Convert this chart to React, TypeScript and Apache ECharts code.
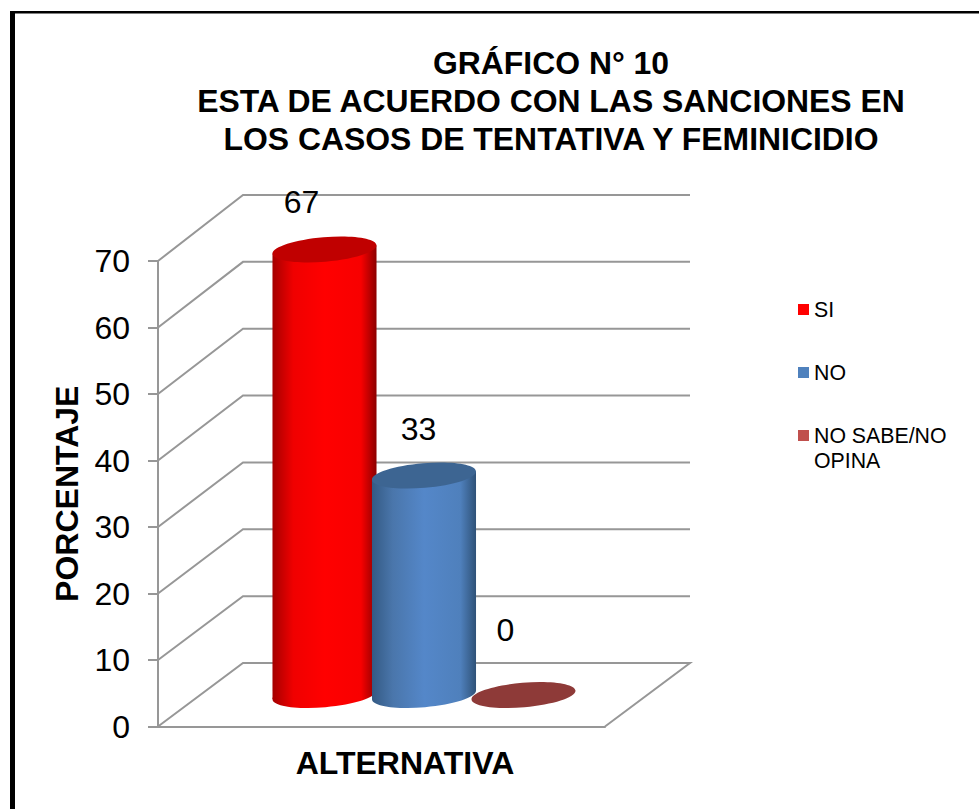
import React, { useEffect, useRef } from "react";
import * as echarts from "echarts";

const titleText = "GRÁFICO N° 10\nESTA DE ACUERDO CON LAS SANCIONES EN\nLOS CASOS DE TENTATIVA Y FEMINICIDIO";
const yAxisName = "PORCENTAJE";
const xAxisName = "ALTERNATIVA";
const categories = [""];
const tickValues = [0, 10, 20, 30, 40, 50, 60, 70];
const seriesNames = ["SI", "NO", "NO SABE/NO OPINA"];
const siValues = [67];
const noValues = [33];
const noSabeValues = [0];

const FONT = '"Liberation Sans", Arial, sans-serif';
const GRID = { left: 158, top: 261, width: 447, height: 465.5 };
const DEPTH = { x: 85, yBottom: -63.5, yTop: -66 };
const BAR = { spacing: 99.5, offX: 42.5, offY: -31.5, a: 52.2, b: 12.3, rot: 0.084, tangent: 4 };
const LINE = "#979797";

const stops = (c: string[]) => c.map((color, i) => ({ offset: [0, 0.2, 0.5, 0.85, 1][i], color }));
const looks = [
  { legend: "#ff0000", top: "#c00000", side: stops(["#a50000", "#f00000", "#ff0000", "#f80000", "#8c0000"]), labelOff: [-23, -47] },
  { legend: "#4f81bd", top: "#3d6592", side: stops(["#345a84", "#4a76ab", "#5487c9", "#4f80bc", "#2f5278"]), labelOff: [-5.5, -47] },
  { legend: "#c0504d", top: "#8e3a38", side: stops(["#8e3a38", "#8e3a38", "#8e3a38", "#8e3a38", "#8e3a38"]), labelOff: [-18, -65] },
];

const wallItem = (_: any, api: any) => {
  const v = api.value(1);
  const p = api.coord([0, v]);
  const x0 = GRID.left;
  const x1 = x0 + DEPTH.x;
  const y1 = p[1] + DEPTH.yBottom + (DEPTH.yTop - DEPTH.yBottom) * (v / 70);
  const x2 = x0 + GRID.width + DEPTH.x;
  const points: number[][] = [[x0, p[1]], [x1, y1], [x2, y1]];
  if (v === 0) points.push([x0 + GRID.width, p[1]]);
  return {
    type: "polyline",
    shape: { points },
    style: { stroke: LINE, lineWidth: 2, fill: "none" },
  };
};

const cylinderItem = (idx: number) => (_: any, api: any) => {
  const look = looks[idx];
  const v = api.value(1);
  const front = api.coord([0, v]);
  const base = api.coord([0, 0]);
  const cx = front[0] + (idx - 1) * BAR.spacing + BAR.offX;
  const cy = front[1] + BAR.offY;
  const by = base[1] + BAR.offY;
  const w = Math.sqrt(BAR.a * BAR.a * Math.cos(BAR.rot) ** 2 + BAR.b * BAR.b * Math.sin(BAR.rot) ** 2);
  const side = new echarts.graphic.LinearGradient(0, 0, 1, 0, look.side);
  const children: any[] = [];
  if (v > 0) {
    children.push({
      type: "ellipse",
      x: cx,
      y: by,
      rotation: BAR.rot,
      shape: { cx: 0, cy: 0, rx: BAR.a, ry: BAR.b },
      style: { fill: side },
    });
    children.push({
      type: "polygon",
      shape: {
        points: [
          [cx - w, cy + BAR.tangent],
          [cx + w, cy - BAR.tangent],
          [cx + w, by - BAR.tangent],
          [cx - w, by + BAR.tangent],
        ],
      },
      style: { fill: side },
    });
  }
  children.push({
    type: "ellipse",
    x: cx,
    y: cy,
    rotation: BAR.rot,
    shape: { cx: 0, cy: 0, rx: BAR.a, ry: BAR.b },
    style: { fill: look.top },
  });
  children.push({
    type: "text",
    style: {
      text: String(v),
      x: cx + look.labelOff[0],
      y: cy + look.labelOff[1],
      fill: "#000",
      fontSize: 32,
      fontFamily: FONT,
      align: "center",
      verticalAlign: "middle",
    },
  });
  return { type: "group", children };
};

const legendBase = {
  orient: "vertical" as const,
  left: 798,
  itemWidth: 11,
  itemHeight: 11,
  icon: "rect",
  selectedMode: false,
  textStyle: { fontFamily: FONT, fontSize: 21.3, color: "#000", lineHeight: 25 },
  padding: 0,
};

export default function App() {
  const ref = useRef<HTMLDivElement>(null);
  useEffect(() => {
    document.body.style.margin = "0";
    const chart = echarts.init(ref.current!, undefined, { renderer: "svg" });
    const valuesBySeries = [siValues, noValues, noSabeValues];
    chart.setOption({
      animation: false,
      backgroundColor: "#fff",
      title: {
        text: titleText,
        left: 551,
        top: 43.5,
        textAlign: "center",
        padding: 0,
        textStyle: { fontFamily: FONT, fontWeight: "bold", fontSize: 31.9, lineHeight: 38, color: "#000" },
      },
      grid: { ...GRID },
      legend: [
        { ...legendBase, top: 297, data: [seriesNames[0]] },
        { ...legendBase, top: 360, data: [seriesNames[1]] },
        {
          ...legendBase,
          top: 398,
          data: [seriesNames[2]],
          formatter: () => "\nNO SABE/NO\nOPINA",
        },
      ],
      xAxis: {
        type: "category",
        data: categories,
        name: xAxisName,
        nameLocation: "middle",
        nameGap: 20,
        nameTextStyle: { fontFamily: FONT, fontWeight: "bold", fontSize: 32, color: "#000", padding: [0, 0, 0, 47] },
        axisTick: { show: false },
        axisLabel: { show: false },
        axisLine: { lineStyle: { color: LINE, width: 2 } },
      },
      yAxis: {
        type: "value",
        min: 0,
        max: 70,
        interval: 10,
        name: yAxisName,
        nameLocation: "middle",
        nameGap: 75,
        nameTextStyle: { fontFamily: FONT, fontWeight: "bold", fontSize: 32, color: "#000" },
        axisLine: { show: true, lineStyle: { color: LINE, width: 2 } },
        axisTick: { show: true, length: 10, lineStyle: { color: LINE, width: 2 } },
        axisLabel: { fontFamily: FONT, fontSize: 32, color: "#000", margin: 28 },
        splitLine: { show: false },
      },
      graphic: [
        { type: "rect", shape: { x: 10, y: 11, width: 5, height: 798 }, style: { fill: "#000" } },
        { type: "rect", shape: { x: 10, y: 11, width: 969, height: 2.5 }, style: { fill: "#000" } },
      ],
      series: [
        {
          type: "custom",
          name: "walls",
          silent: true,
          clip: false,
          data: tickValues.map((t) => [0, t]),
          encode: { x: 0, y: 1 },
          renderItem: wallItem,
          z: 1,
        },
        ...seriesNames.map((name, i) => ({
          type: "custom",
          name,
          clip: false,
          itemStyle: { color: looks[i].legend },
          data: valuesBySeries[i].map((v, k) => [k, v]),
          encode: { x: 0, y: 1 },
          renderItem: cylinderItem(i),
          z: 2 + i,
        })),
      ],
    });
    return () => chart.dispose();
  }, []);
  return <div ref={ref} style={{ position: "absolute", left: 0, top: 0, width: 979, height: 809 }} />;
}
